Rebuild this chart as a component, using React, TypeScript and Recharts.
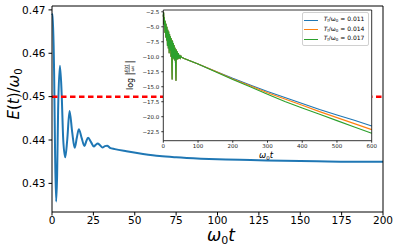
import { LineChart, Line, XAxis, YAxis, ReferenceLine, Label } from "recharts";

// main panel: E(t)/w0 vs w0 t
const mainT = [
  0, 0.5, 1.3, 1.9, 2.5, 3.1, 3.7, 4.8, 5.8, 6.8, 8.0, 9.2, 10.6, 12.2, 13.7, 15.0, 16.2, 17.9,
  19.6, 20.6, 21.8, 23.6, 25.3, 26.4, 27.6, 29.0, 30.5, 32.0, 33.3, 35, 38, 45, 55, 65, 75, 90,
  105, 120, 140, 160, 180, 200,
];
const mainE = [
  0.4688, 0.469, 0.455, 0.436, 0.4258, 0.432, 0.447, 0.4571, 0.451, 0.44, 0.436, 0.44, 0.4467,
  0.4418, 0.4382, 0.4405, 0.4425, 0.4405, 0.4386, 0.4396, 0.4405, 0.4395, 0.4385, 0.4389, 0.4392,
  0.4388, 0.4383, 0.4386, 0.4387, 0.4382, 0.4379, 0.4374, 0.4368, 0.4363, 0.436, 0.4357, 0.4355,
  0.4354, 0.4352, 0.4351, 0.435, 0.435,
];
const mainXTicks = [0, 25, 50, 75, 100, 125, 150, 175, 200];
const mainYTicks = [0.43, 0.44, 0.45, 0.46, 0.47];
const mainXDomain = [0, 200];
const mainYDomain = [0.4234, 0.4709];
const thresholdE = 0.45;

// inset: log|E(t)/w0| for three T_f values
const insetEarlyT = [
  0, 1, 2, 3, 4.5, 5.5, 7, 8, 9.5, 10.5, 12, 13, 14.5, 15.5, 17, 18, 19.5, 20.5, 22, 23, 25.5,
  26.5, 28, 29, 30.5, 31.5, 33, 34, 36.5, 37.5, 39, 40, 42, 43.5, 45.5, 47, 49, 51, 53,
];
const insetEarly = [
  -3.3, -2.6, -4.6, -3.4, -6.0, -4.0, -6.8, -4.5, -7.3, -5.0, -8.2, -5.5, -8.6, -5.8, -9.4, -6.2,
  -9.0, -6.6, -10.0, -6.9, -13.8, -7.3, -10.2, -7.7, -10.4, -8.1, -10.6, -8.5, -14.0, -8.8, -10.5,
  -9.1, -10.4, -9.4, -10.3, -9.7, -10.2, -9.9, -10.1,
];
const insetLateT = [60, 80, 100, 150, 200, 250, 300, 350, 400, 450, 500, 550, 600];
const lateBlue = [-10.3, -10.75, -11.2, -12.4, -13.6, -14.7, -15.8, -16.8, -17.8, -18.8, -19.7, -20.6, -21.55];
const lateOrange = [-10.3, -10.75, -11.2, -12.4, -13.7, -14.85, -16.0, -17.05, -18.1, -19.15, -20.15, -21.15, -22.15];
const lateGreen = [-10.3, -10.75, -11.2, -12.5, -13.8, -15.0, -16.25, -17.45, -18.55, -19.6, -20.65, -21.7, -22.75];
const insetXTicks = [0, 100, 200, 300, 400, 500, 600];
const insetYTicks = [-2.5, -5, -7.5, -10, -12.5, -15, -17.5, -20, -22.5];
const insetXDomain = [0, 600];
const insetYDomain = [-24, -2.2];

const seriesKeys = ["blue", "orange", "green"];
const seriesColors = ["#1f77b4", "#ff7f0e", "#2ca02c"];
const seriesTf = ["0.011", "0.014", "0.017"];

const mainData = mainT.map((t, i) => ({ t, e: mainE[i] }));
const insetT = [...insetEarlyT, ...insetLateT];
const lateAll = [lateBlue, lateOrange, lateGreen];
const insetData = insetT.map((t, i) => {
  const row: Record<string, number> = { t };
  seriesKeys.forEach((k, s) => {
    row[k] = i < insetEarly.length ? insetEarly[i] : lateAll[s][i - insetEarly.length];
  });
  return row;
});

const FONT = "DejaVu Sans";
const minus = (v: number) => v.toFixed(1).replace("-", "\u2212");

export default function App() {
  return (
    <div style={{ position: "absolute", left: 0, top: 0, width: 399, height: 250, background: "#fff", fontFamily: FONT }}>
      <div style={{ position: "absolute", left: 0, top: 0 }}>
        <LineChart width={399} height={250} data={mainData} margin={{ top: 6, right: 16, bottom: 8, left: 0 }}>
          <XAxis
            dataKey="t"
            type="number"
            domain={mainXDomain}
            ticks={mainXTicks}
            height={30}
            tickSize={3.5}
            tickMargin={1.5}
            stroke="#000"
            tick={{ fill: "#000", fontSize: 10.5, fontFamily: FONT }}
          >
            <Label
              content={() => (
                <text x={221} y={241} textAnchor="middle" fontSize={17} fontFamily={FONT} fill="#000">
                  <tspan fontStyle="italic">ω</tspan>
                  <tspan fontSize={11} dy={3}>0</tspan>
                  <tspan fontStyle="italic" dy={-3}>t</tspan>
                </text>
              )}
            />
          </XAxis>
          <YAxis
            type="number"
            domain={mainYDomain}
            ticks={mainYTicks}
            width={52}
            tickSize={3.5}
            tickMargin={3}
            stroke="#000"
            tickFormatter={(v: number) => v.toFixed(2)}
            tick={{ fill: "#000", fontSize: 10.5, fontFamily: FONT }}
          >
            <Label
              content={() => (
                <text x={19} y={94} transform="rotate(-90, 19, 94)" textAnchor="middle" fontSize={15} fontFamily={FONT} fill="#000">
                  <tspan fontStyle="italic">E</tspan>
                  <tspan>(</tspan>
                  <tspan fontStyle="italic">t</tspan>
                  <tspan>)/</tspan>
                  <tspan fontStyle="italic">ω</tspan>
                  <tspan fontSize={10} dy={3}>0</tspan>
                </text>
              )}
            />
          </YAxis>
          <Line dataKey="e" type="monotone" stroke="#1f77b4" strokeWidth={2} dot={false} isAnimationActive={false} />
          <ReferenceLine y={thresholdE} stroke="#ff0000" strokeWidth={2.5} strokeDasharray="5.5 3.5" />
          {/* top and right spines */}
          <ReferenceLine y={mainYDomain[1]} stroke="#000" strokeWidth={1} />
          <ReferenceLine x={mainXDomain[1]} stroke="#000" strokeWidth={1} />
        </LineChart>
      </div>

      {/* inset axes background */}
      <div style={{ position: "absolute", left: 163.3, top: 10, width: 208.4, height: 130.7, background: "#fff" }} />

      <div style={{ position: "absolute", left: 0, top: 0 }}>
        <LineChart width={399} height={250} data={insetData} margin={{ top: 10, right: 27.3, bottom: 97.3, left: 133.3 }}>
          <XAxis
            dataKey="t"
            type="number"
            domain={insetXDomain}
            ticks={insetXTicks}
            height={12}
            tickSize={2}
            tickMargin={1}
            stroke="#000"
            strokeWidth={0.8}
            tick={{ fill: "#222", fontSize: 5.5, fontFamily: FONT }}
          >
            <Label
              content={() => (
                <text x={266} y={158} textAnchor="middle" fontSize={8.5} fontFamily={FONT} fill="#000">
                  <tspan fontStyle="italic">ω</tspan>
                  <tspan fontSize={5.5} dy={2}>0</tspan>
                  <tspan fontStyle="italic" dy={-2}>t</tspan>
                </text>
              )}
            />
          </XAxis>
          <YAxis
            type="number"
            domain={insetYDomain}
            ticks={insetYTicks}
            width={30}
            tickSize={2}
            tickMargin={2}
            stroke="#000"
            strokeWidth={0.8}
            tickFormatter={minus}
            tick={{ fill: "#222", fontSize: 5.5, fontFamily: FONT }}
          >
            <Label
              content={() => (
                <g transform="translate(129, 74) rotate(-90)" fontFamily={FONT} fill="#000">
                  <text x={-16} y={4} fontSize={8}>log</text>
                  <text x={-1.5} y={4} fontSize={10}>|</text>
                  <text x={5.5} y={-1} fontSize={4.5} textAnchor="middle">
                    <tspan fontStyle="italic">E</tspan>(<tspan fontStyle="italic">t</tspan>)
                  </text>
                  <line x1={1.5} x2={9.5} y1={0.2} y2={0.2} stroke="#000" strokeWidth={0.5} />
                  <text x={5.5} y={4.6} fontSize={4.5} textAnchor="middle">
                    <tspan fontStyle="italic">ω</tspan>
                    <tspan fontSize={3.2}>0</tspan>
                  </text>
                  <text x={10.5} y={4} fontSize={10}>|</text>
                </g>
              )}
            />
          </YAxis>
          {seriesKeys.map((k, s) => (
            <Line key={k} dataKey={k} type="linear" stroke={seriesColors[s]} strokeWidth={1.1} dot={false} isAnimationActive={false} />
          ))}
          <ReferenceLine y={insetYDomain[1]} stroke="#000" strokeWidth={0.8} />
          <ReferenceLine x={insetXDomain[1]} stroke="#000" strokeWidth={0.8} />
        </LineChart>
      </div>

      {/* inset legend */}
      <div
        style={{
          position: "absolute",
          left: 301.7,
          top: 12.3,
          width: 67.6,
          height: 33.4,
          boxSizing: "border-box",
          border: "0.8px solid #d0d0d0",
          borderRadius: 2,
          background: "rgba(255,255,255,0.8)",
          paddingTop: 2,
        }}
      >
        {seriesKeys.map((k, s) => (
          <div key={k} style={{ display: "flex", alignItems: "center", height: 9.6, fontSize: 6, lineHeight: "6px", color: "#000" }}>
            <div style={{ width: 14, height: 1.2, background: seriesColors[s], marginLeft: 1.6, marginRight: 5.4 }} />
            <span>
              <i>T</i>
              <sub style={{ fontSize: 4, verticalAlign: -1 }}>f</sub>/ω
              <sub style={{ fontSize: 4, verticalAlign: -1 }}>0</sub> = {seriesTf[s]}
            </span>
          </div>
        ))}
      </div>
    </div>
  );
}
